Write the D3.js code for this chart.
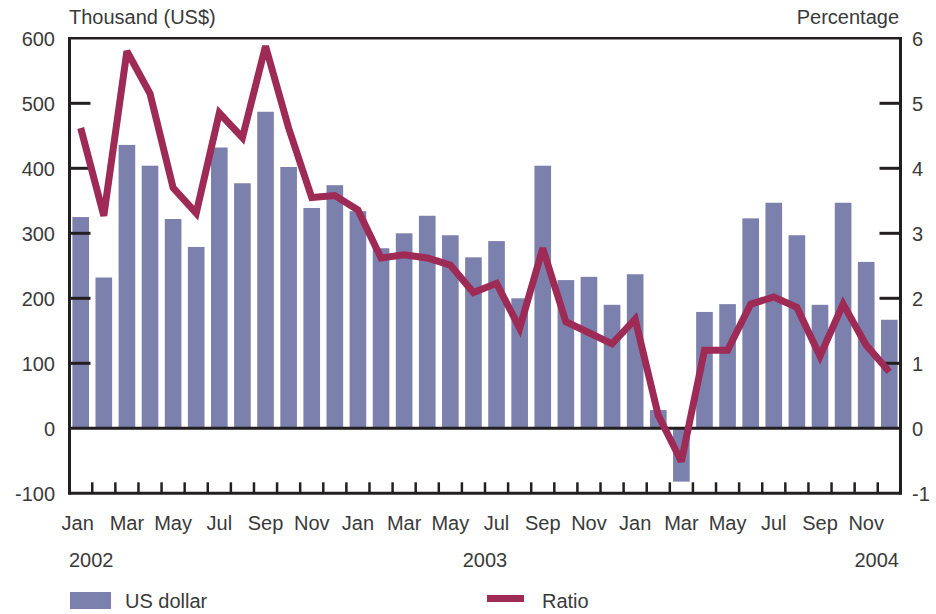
<!DOCTYPE html>
<html>
<head>
<meta charset="utf-8">
<script src="https://cdn.jsdelivr.net/npm/d3@7"></script>
<style>
  html, body { margin: 0; padding: 0; background: #fff; }
  svg { display: block; }
  text { font-family: "Liberation Sans", Arial, sans-serif; fill: #3a3a3a; }
</style>
</head>
<body>
<svg id="chart" width="936" height="614"></svg>
<script>
// Monthly series, Jan 2002 – Dec 2004
const months = ["Jan","Feb","Mar","Apr","May","Jun","Jul","Aug","Sep","Oct","Nov","Dec"];
const years = [2002, 2003, 2004];

// Bars: thousand US$ (left axis)
const usDollar = [
  325, 232, 436, 404, 322, 279, 432, 377, 487, 402, 339, 374,
  334, 277, 300, 327, 297, 263, 288, 200, 404, 228, 233, 190,
  237, 28, -82, 179, 191, 323, 347, 297, 190, 347, 256, 167
];

// Line: ratio in percent (right axis)
const ratio = [
  4.62, 3.27, 5.80, 5.15, 3.70, 3.31, 4.85, 4.47, 5.88, 4.62, 3.55, 3.58,
  3.36, 2.62, 2.67, 2.62, 2.51, 2.09, 2.23, 1.54, 2.77, 1.64, 1.47, 1.30,
  1.68, 0.20, -0.51, 1.20, 1.20, 1.91, 2.02, 1.86, 1.11, 1.91, 1.28, 0.87
];

const leftTicks = [600, 500, 400, 300, 200, 100, 0, -100];
const rightTicks = [6, 5, 4, 3, 2, 1, 0, -1];
const labelMonths = ["Jan", "Mar", "May", "Jul", "Sep", "Nov"];

const barColor = "#7c80ad";
const lineColor = "#9e2a56";
const axisColor = "#231f20";

const svg = d3.select("#chart");

const plot = { left: 69.5, right: 900.5, top: 38.3, bottom: 493.3 };

const idx = d3.range(usDollar.length);
const x = d3.scaleBand()
  .domain(idx)
  .range([plot.left, plot.right])
  .paddingInner(0.28)
  .paddingOuter(0.125);

const yL = d3.scaleLinear().domain([-100, 600]).range([plot.bottom, plot.top]);
const yR = d3.scaleLinear().domain([-1, 6]).range([plot.bottom, plot.top]);

// Bars
svg.append("g")
  .selectAll("rect")
  .data(usDollar)
  .join("rect")
  .attr("x", (d, i) => x(i))
  .attr("width", x.bandwidth())
  .attr("y", d => yL(Math.max(0, d)))
  .attr("height", d => Math.abs(yL(d) - yL(0)))
  .attr("fill", barColor);

// Frame and axes
const axes = svg.append("g").attr("stroke", axisColor).attr("fill", "none");
axes.append("line").attr("x1", plot.left).attr("x2", plot.right)
  .attr("y1", plot.top).attr("y2", plot.top).attr("stroke-width", 2.5);
axes.append("line").attr("x1", plot.left).attr("x2", plot.right)
  .attr("y1", plot.bottom).attr("y2", plot.bottom).attr("stroke-width", 3);
axes.append("line").attr("x1", plot.left).attr("x2", plot.right)
  .attr("y1", yL(0)).attr("y2", yL(0)).attr("stroke-width", 3);
axes.append("line").attr("x1", plot.left).attr("x2", plot.left)
  .attr("y1", plot.top - 1.2).attr("y2", plot.bottom + 1.5).attr("stroke-width", 3);
axes.append("line").attr("x1", plot.right).attr("x2", plot.right)
  .attr("y1", plot.top - 1.2).attr("y2", plot.bottom + 1.5).attr("stroke-width", 3);

// Inward ticks on left and right axes
const innerTicks = leftTicks.filter(v => v > -100 && v < 600 && v !== 0);
axes.selectAll(".lt").data(innerTicks).join("line")
  .attr("x1", plot.left).attr("x2", plot.left + 21)
  .attr("y1", d => yL(d)).attr("y2", d => yL(d)).attr("stroke-width", 3);
const innerTicksR = rightTicks.filter(v => v > -1 && v < 6 && v !== 0);
axes.selectAll(".rt").data(innerTicksR).join("line")
  .attr("x1", plot.right - 21).attr("x2", plot.right)
  .attr("y1", d => yR(d)).attr("y2", d => yR(d)).attr("stroke-width", 3);

// Month separators on the bottom axis
const step = x.step();
const sepX = idx.slice(1).map(i => x(i) - step * x.paddingInner() / 2);
axes.selectAll(".bt").data(sepX).join("line")
  .attr("x1", d => d).attr("x2", d => d)
  .attr("y1", plot.bottom - 11).attr("y2", plot.bottom).attr("stroke-width", 2.5);

// Ratio line
const line = d3.line()
  .x((d, i) => x(i) + x.bandwidth() / 2)
  .y(d => yR(d));
svg.append("path")
  .datum(ratio)
  .attr("d", line)
  .attr("fill", "none")
  .attr("stroke", lineColor)
  .attr("stroke-width", 7)
  .attr("stroke-linejoin", "miter")
  .attr("stroke-miterlimit", 3);

// Axis labels
const fs = 20;
svg.append("g").selectAll("text").data(leftTicks).join("text")
  .attr("x", 55).attr("y", d => yL(d)).attr("dy", "0.36em")
  .attr("text-anchor", "end").attr("font-size", fs)
  .text(d => d);
svg.append("g").selectAll("text").data(rightTicks).join("text")
  .attr("x", 912).attr("y", d => yR(d)).attr("dy", "0.36em")
  .attr("text-anchor", "start").attr("font-size", fs)
  .text(d => d);

svg.append("text").attr("x", 69).attr("y", 24).attr("font-size", fs)
  .text("Thousand (US$)");
svg.append("text").attr("x", 899).attr("y", 24).attr("font-size", fs)
  .attr("text-anchor", "end").text("Percentage");

// Month labels (every other month)
const monthLabels = idx.filter(i => labelMonths.includes(months[i % 12]));
svg.append("g").selectAll("text").data(monthLabels).join("text")
  .attr("x", i => x(i) + x.bandwidth() / 2 - (i === 0 ? 3 : 0))
  .attr("y", 530)
  .attr("text-anchor", "middle").attr("font-size", fs)
  .text(i => months[i % 12]);

// Year labels
svg.append("text").attr("x", 69).attr("y", 567).attr("font-size", fs)
  .text(years[0]);
svg.append("text").attr("x", (plot.left + plot.right) / 2).attr("y", 567)
  .attr("text-anchor", "middle").attr("font-size", fs).text(years[1]);
svg.append("text").attr("x", 899).attr("y", 567)
  .attr("text-anchor", "end").attr("font-size", fs).text(years[2]);

// Legend
svg.append("rect").attr("x", 70).attr("y", 592).attr("width", 41).attr("height", 17)
  .attr("fill", barColor);
svg.append("text").attr("x", 125).attr("y", 608).attr("font-size", fs).text("US dollar");
svg.append("line").attr("x1", 487).attr("x2", 524).attr("y1", 598.5).attr("y2", 598.5)
  .attr("stroke", lineColor).attr("stroke-width", 7);
svg.append("text").attr("x", 542).attr("y", 608).attr("font-size", fs).text("Ratio");
</script>
</body>
</html>
